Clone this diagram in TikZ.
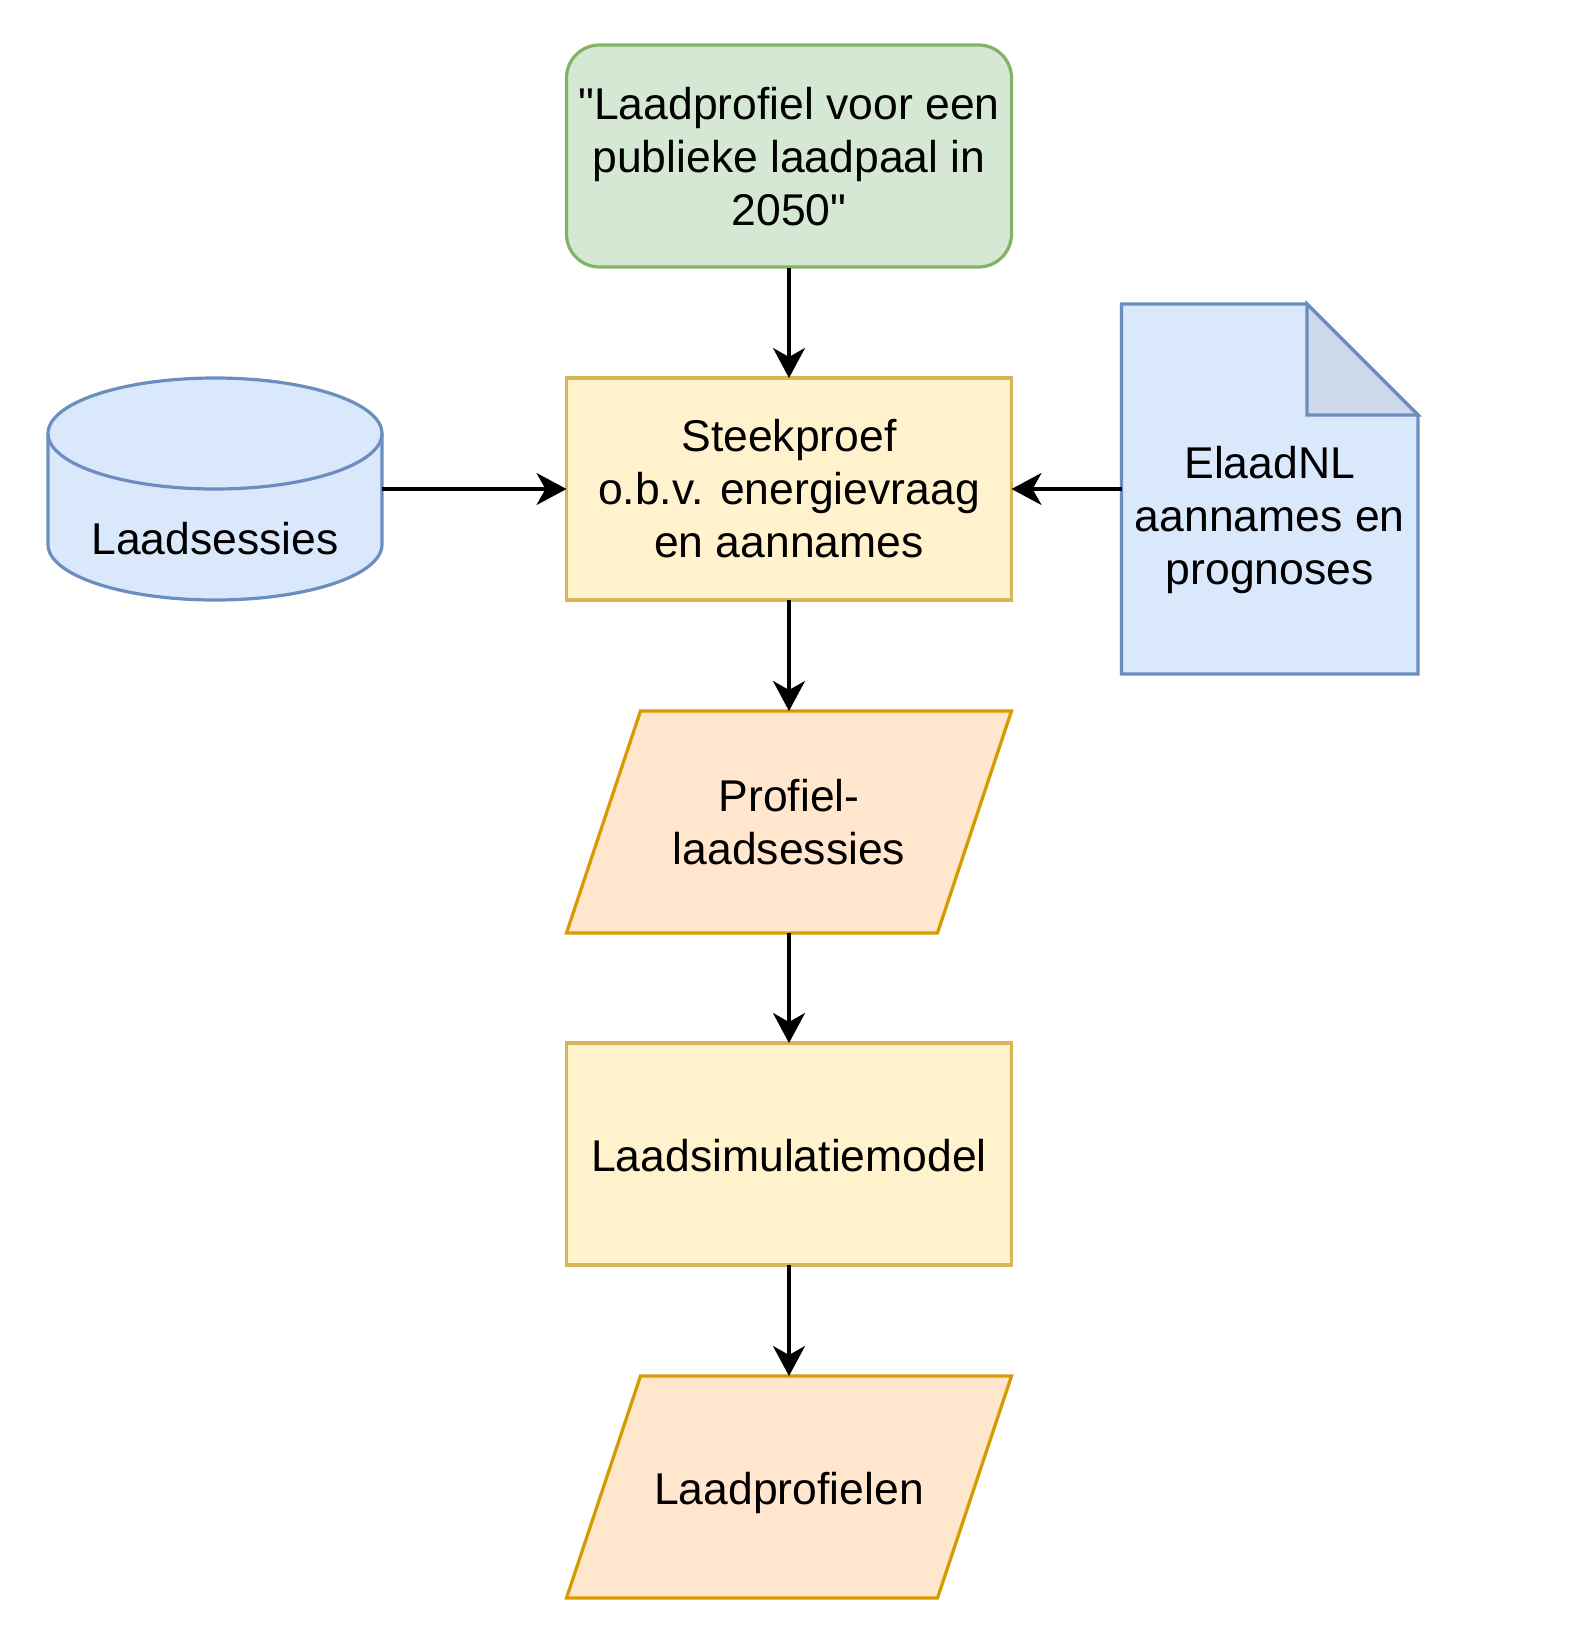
\documentclass[tikz,border=0pt]{standalone}
\usepackage{fontspec}
\setmainfont{Liberation Sans}[Ligatures=TeXOff]
\usetikzlibrary{arrows.meta}
\definecolor{greenfill}{HTML}{D5E8D4}
\definecolor{greenstroke}{HTML}{82B366}
\definecolor{yellowfill}{HTML}{FFF2CC}
\definecolor{yellowstroke}{HTML}{D6B656}
\definecolor{bluefill}{HTML}{DAE8FC}
\definecolor{bluestroke}{HTML}{6C8EBF}
\definecolor{foldfill}{HTML}{CEDAEC}
\definecolor{orangefill}{HTML}{FFE6CC}
\definecolor{orangestroke}{HTML}{D79B00}
\begin{document}
\begin{tikzpicture}[x=1pt,y=-1pt,
  lbl/.style={font=\fontsize{44.5}{53}\selectfont, align=center, inner sep=0pt, outer sep=0pt, text=black},
  area/.style={lbl, minimum width=445pt, minimum height=222pt},
  shp/.style={line width=3.2pt, line join=miter},
  conn/.style={line width=3.2pt, -{Stealth[length=30pt,width=32pt,inset=9pt]}}]
\useasboundingbox (0,0) rectangle (1590,1636);
\fill[white] (0,0) rectangle (1590,1636);

% shapes
\draw[shp, draw=greenstroke, fill=greenfill, rounded corners=33pt] (566.5,45) rectangle (1011.5,267);
\draw[shp, draw=yellowstroke, fill=yellowfill] (566.5,378) rectangle (1011.5,600);
\draw[shp, draw=yellowstroke, fill=yellowfill] (566.5,1043) rectangle (1011.5,1265);
\draw[shp, draw=orangestroke, fill=orangefill] (640.5,711) -- (1011.5,711) -- (937.5,933) -- (566.5,933) -- cycle;
\draw[shp, draw=orangestroke, fill=orangefill] (640.5,1376) -- (1011.5,1376) -- (937.5,1598) -- (566.5,1598) -- cycle;

% cylinder
\draw[shp, draw=bluestroke, fill=bluefill] (48,433.5) -- (48,544.5)
  arc[start angle=180, end angle=360, x radius=167pt, y radius=55.5pt]
  -- (382,433.5)
  arc[start angle=0, end angle=180, x radius=167pt, y radius=55.5pt] -- cycle;
\draw[shp, draw=bluestroke] (48,433.5)
  arc[start angle=180, end angle=360, x radius=167pt, y radius=55.5pt];

% document
\draw[shp, draw=bluestroke, fill=bluefill] (1121.5,304) -- (1307,304) -- (1418,415) -- (1418,674) -- (1121.5,674) -- cycle;
\draw[shp, draw=bluestroke, fill=foldfill] (1307,304) -- (1307,415) -- (1418,415) -- cycle;

% labelled areas (invisible nodes carrying the text and the anchors)
\node[area] (goal) at (789,157) {"Laadprofiel voor een\\publieke laadpaal in\\2050"};
\node[area] (steek) at (789,489) {Steekproef\\o.b.v. energievraag\\en aannames};
\node[area] (prof) at (789,822) {Profiel-\\laadsessies};
\node[area] (sim) at (789,1154) {};
\node[lbl] (simt) at (789,1156) {Laadsimulatiemodel};
\node[area] (res) at (789,1487) {};
\node[lbl] (rest) at (789,1493) {Laadprofielen};
\node[lbl, minimum width=334pt, minimum height=222pt] (cyl) at (215,489) {};
\node[lbl] (cylt) at (215,539) {Laadsessies};
\node[lbl, minimum width=296.5pt, minimum height=370pt] (doc) at (1269.75,489) {};
\node[lbl] (doct) at (1269.75,520) {ElaadNL\\aannames en\\prognoses};

% connectors
\draw[conn] (goal.south) -- (steek.north);
\draw[conn] (cyl.east) -- (steek.west);
\draw[conn] (doc.west) -- (steek.east);
\draw[conn] (steek.south) -- (prof.north);
\draw[conn] (prof.south) -- (sim.north);
\draw[conn] (sim.south) -- (res.north);
\end{tikzpicture}
\end{document}
